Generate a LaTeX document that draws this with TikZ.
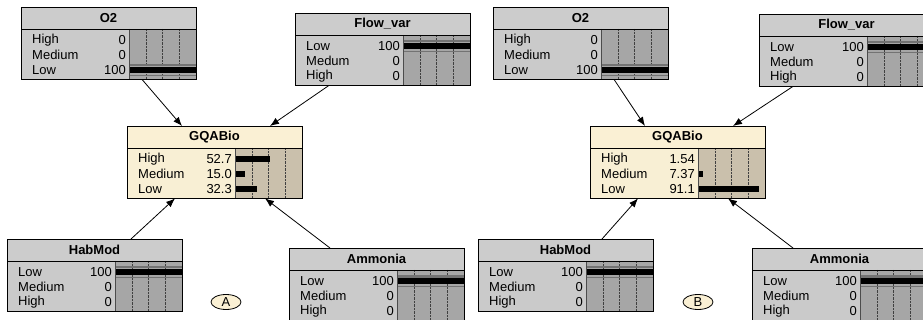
\documentclass[tikz,border=0pt]{standalone}
\usepackage{fontspec}
\setmainfont{Liberation Sans}
\usetikzlibrary{arrows.meta,shapes.geometric}
\definecolor{gtitle}{RGB}{204,204,204}
\definecolor{gbody}{RGB}{202,202,202}
\definecolor{ggraph}{RGB}{166,166,166}
\definecolor{ctitle}{RGB}{250,240,212}
\definecolor{cbody}{RGB}{248,239,212}
\definecolor{cgraph}{RGB}{202,192,172}
\tikzset{
  txt/.style={inner sep=0pt, font=\fontsize{13}{14}\selectfont},
  ttl/.style={inner sep=0pt, font=\fontsize{13}{14}\selectfont\bfseries},
  frame/.style={draw=black, line width=0.8pt},
  sepline/.style={draw=black!70, line width=0.6pt},
  dotline/.style={draw=black!75, line width=0.5pt, dash pattern=on 0.7pt off 0.7pt},
  arr/.style={draw=black, line width=0.8pt, -{Latex[length=9pt,width=7pt]}},
  tag/.style={ellipse, draw=black, line width=0.8pt, fill=ctitle, inner sep=0pt,
    minimum width=30pt, minimum height=15pt, font=\fontsize{13}{14}\selectfont}
}
% \netrow{index}{label}{value}{percent}
\newcommand\netrow[4]{%
  \pgfmathsetmacro\ry{33+15*(#1-1)}%
  \node[txt, anchor=west] (\curbox-l#1) at (11,\ry) {#2};%
  \node[txt, anchor=east] (\curbox-v#1) at (105,\ry) {#3};%
  \ifdim #4pt=100pt
    \fill[black!55] (108,\ry-6) rectangle (175,\ry-3.5);
    \draw[black!55, line width=0.6pt] (108,\ry+5) -- (175,\ry+5);
  \fi
  \fill[black] (108,\ry-3) rectangle ++(0.67*#4,6);%
}
% \netbox{name}{left}{top}{title}{colour prefix}{rows}
\newcommand\netbox[6]{%
  \begin{scope}[shift={(#2,#3)}]
    \def\curbox{#1}%
    \node[rectangle, inner sep=0pt, fill=#5body, minimum width=175pt, minimum height=72pt,
      anchor=north west] (#1) at (0,0) {};
    \fill[#5title] (0,0) rectangle (175,22);
    \fill[#5graph] (108,22) rectangle (175,72);
    \foreach \k in {1,2,3} {\draw[dotline] (108+16.75*\k,22) -- (108+16.75*\k,72);}
    \node[ttl] (#1-t) at (87.5,11) {#4};
    #6
    \draw[sepline] (108,22) -- (108,72);
    \draw[frame] (0,22) -- (175,22);
    \draw[frame] (0,0) rectangle (175,72);
  \end{scope}%
}
\begin{document}
\begin{tikzpicture}[x=1pt,y=-1pt]
\useasboundingbox (0,0) rectangle (923,320);
\clip (0,0) rectangle (923,320);
\fill[white] (0,0) rectangle (923,320);

% ---------- panel A ----------
\netbox{o2a}{21}{7}{O2}{g}{\netrow{1}{High}{0}{0}\netrow{2}{Medium}{0}{0}\netrow{3}{Low}{100}{100}}
\netbox{fla}{295}{13}{Flow\_var}{g}{\netrow{1}{Low}{100}{100}\netrow{2}{Medum}{0}{0}\netrow{3}{High}{0}{0}}
\netbox{gqa}{127}{126}{GQABio}{c}{\netrow{1}{High}{52.7}{52.7}\netrow{2}{Medium}{15.0}{15.0}\netrow{3}{Low}{32.3}{32.3}}
\netbox{hba}{7}{239}{HabMod}{g}{\netrow{1}{Low}{100}{100}\netrow{2}{Medium}{0}{0}\netrow{3}{High}{0}{0}}
\netbox{ama}{289}{248}{Ammonia}{g}{\netrow{1}{Low}{100}{100}\netrow{2}{Medium}{0}{0}\netrow{3}{High}{0}{0}}
\node[tag] (tagA) at (226,302) {A};

\draw[arr] ([xshift=121pt]o2a.south west) -- ([xshift=55pt]gqa.north west);
\draw[arr] ([xshift=34pt]fla.south west) -- ([xshift=143pt]gqa.north west);
\draw[arr] ([xshift=124pt]hba.north west) -- ([xshift=48pt]gqa.south west);
\draw[arr] ([xshift=41pt]ama.north west) -- ([xshift=138pt]gqa.south west);

% ---------- panel B ----------
\netbox{o2b}{493}{7}{O2}{g}{\netrow{1}{High}{0}{0}\netrow{2}{Medium}{0}{0}\netrow{3}{Low}{100}{100}}
\netbox{flb}{759}{14}{Flow\_var}{g}{\netrow{1}{Low}{100}{100}\netrow{2}{Medum}{0}{0}\netrow{3}{High}{0}{0}}
\netbox{gqb}{590}{126}{GQABio}{c}{\netrow{1}{High}{1.54}{1.54}\netrow{2}{Medium}{7.37}{7.37}\netrow{3}{Low}{91.1}{91.1}}
\netbox{hbb}{478}{239}{HabMod}{g}{\netrow{1}{Low}{100}{100}\netrow{2}{Medium}{0}{0}\netrow{3}{High}{0}{0}}
\netbox{amb}{752}{248}{Ammonia}{g}{\netrow{1}{Low}{100}{100}\netrow{2}{Medium}{0}{0}\netrow{3}{High}{0}{0}}
\node[tag] (tagB) at (698,302) {B};

\draw[arr] ([xshift=121pt]o2b.south west) -- ([xshift=55pt]gqb.north west);
\draw[arr] ([xshift=34pt]flb.south west) -- ([xshift=143pt]gqb.north west);
\draw[arr] ([xshift=124pt]hbb.north west) -- ([xshift=48pt]gqb.south west);
\draw[arr] ([xshift=41pt]amb.north west) -- ([xshift=138pt]gqb.south west);
\end{tikzpicture}
\end{document}
